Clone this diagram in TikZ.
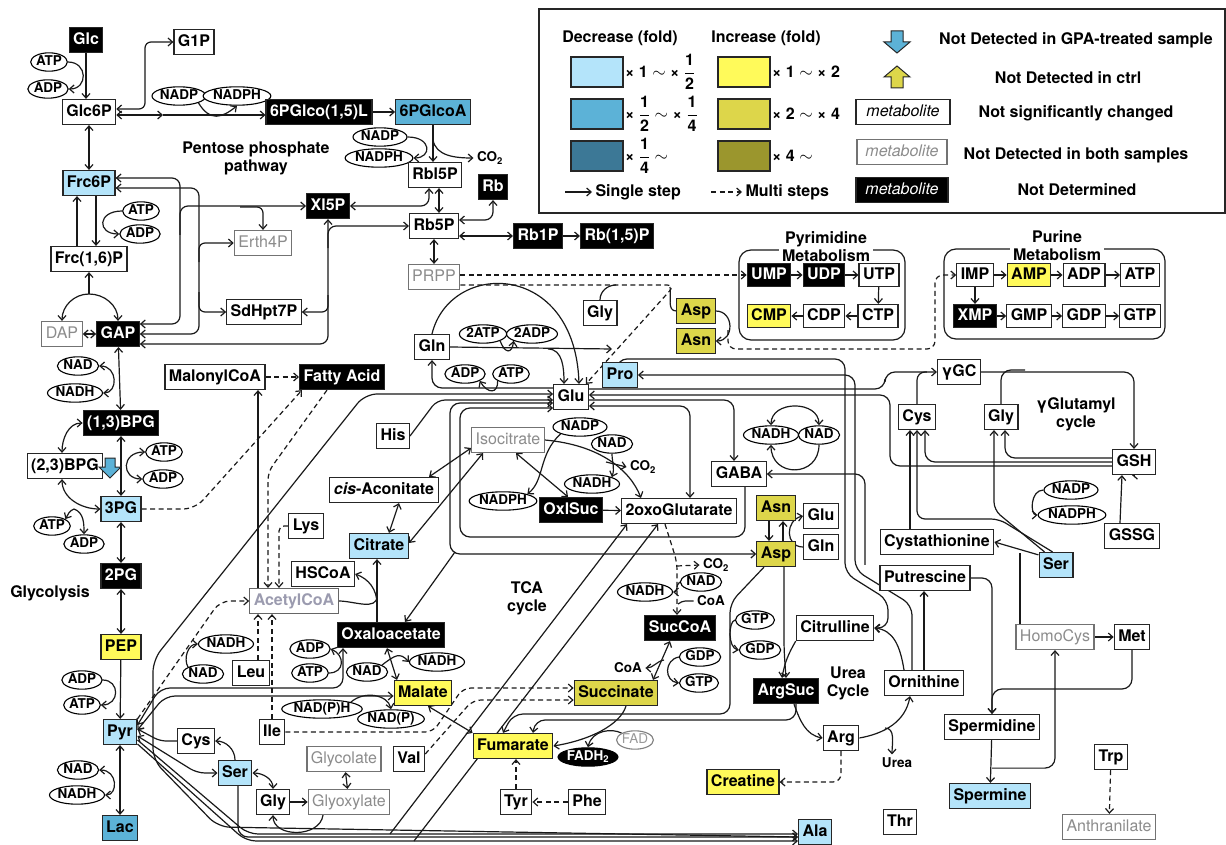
\documentclass[tikz,border=0pt]{standalone}
\usepackage{fontspec}
\setmainfont{TeX Gyre Heros}
\usepackage{amsmath}
\usetikzlibrary{positioning,shapes.geometric,arrows.meta}
\pgfdeclarelayer{bg}
\pgfsetlayers{bg,main}
\definecolor{bluea}{RGB}{180,228,250}
\definecolor{blueb}{RGB}{92,178,215}
\definecolor{bluec}{RGB}{60,120,150}
\definecolor{yela}{RGB}{255,250,90}
\definecolor{yelb}{RGB}{221,214,74}
\definecolor{yelc}{RGB}{155,150,45}
\definecolor{acgray}{RGB}{155,155,175}
\newcommand\mfont{\fontsize{16}{18}\selectfont\bfseries}
\newcommand\cfont{\fontsize{13.5}{15}\selectfont\bfseries}
\tikzset{
  met/.style={draw=black!85, line width=1.2pt, fill=white, font=\mfont, inner xsep=4pt, inner ysep=0pt,
    minimum height=25pt, text height=11.5pt, text depth=3pt},
  nd/.style={met, fill=black, text=white},
  nb/.style={met, draw=black!55, text=black!45, font=\fontsize{16}{18}\selectfont},
  dA/.style={met, fill=bluea}, dB/.style={met, fill=blueb},
  iA/.style={met, fill=yela}, iB/.style={met, fill=yelb},
  sm/.style={minimum height=23pt},
  cof/.style={draw=black, line width=1.1pt, ellipse, fill=white, font=\cfont, inner sep=0pt,
    text height=10pt, text depth=3pt},
  lab/.style={font=\mfont, align=center},
  clab/.style={font=\cfont},
  sw/.style={draw=black!85, line width=1.2pt, minimum width=52pt, minimum height=30pt},
  dsh/.style={dash pattern=on 5pt off 3.5pt},
  downarr/.style={draw=black!85, line width=1pt, fill=blueb},
  uparr/.style={draw=black!85, line width=1pt, fill=yelb},
  links/.style={line width=1.2pt, draw=black!90},
}
\begin{document}
\begin{tikzpicture}[x=1pt,y=-1pt,>={Straight Barb[length=4.5pt,width=8pt]}]
\useasboundingbox (0,0) rectangle (1226,845);

% legend
\draw[line width=1.2pt, black!85] (539,9) rectangle (1225,213);
\node[lab] (dect) at (620,38) {Decrease (fold)};
\node[lab] (inct) at (766,38) {Increase (fold)};
\node[sw, fill=bluea] (swa) at (597,72) {};
\node[sw, fill=blueb] (swb) at (597,114) {};
\node[sw, fill=bluec] (swc) at (597,156) {};
\node[sw, fill=yela] (swd) at (744,72) {};
\node[sw, fill=yelb] (swe) at (744,114) {};
\node[sw, fill=yelc] (swf) at (744,156) {};
\node[lab, anchor=west, inner sep=1pt] (swat) at (624,72) {× 1 $\sim$ × $\dfrac{\text{1}}{\text{2}}$};
\node[lab, anchor=west, inner sep=1pt] (swbt) at (624,114) {× $\dfrac{\text{1}}{\text{2}}$ $\sim$ × $\dfrac{\text{1}}{\text{4}}$};
\node[lab, anchor=west, inner sep=1pt] (swct) at (624,156) {× $\dfrac{\text{1}}{\text{4}}$ $\sim$};
\node[lab, anchor=west, inner sep=1pt] (swdt) at (771,72) {× 1 $\sim$ × 2};
\node[lab, anchor=west, inner sep=1pt] (swet) at (771,114) {× 2 $\sim$ × 4};
\node[lab, anchor=west, inner sep=1pt] (swft) at (771,156) {× 4 $\sim$};
\coordinate (ssa) at (565,192);
\node[lab, anchor=west] (sstep) at (592,192) {Single step};
\coordinate (msa) at (711,192);
\node[lab, anchor=west] (mstep) at (742,192) {Multi steps};
\filldraw[downarr, shift={(897,42)}] (-6,-11) -- (6,-11) -- (6,0) -- (13,0) -- (0,11) -- (-13,0) -- (-6,0) -- cycle;
\filldraw[uparr, shift={(897,77)}] (-6,11) -- (6,11) -- (6,0) -- (13,0) -- (0,-11) -- (-13,0) -- (-6,0) -- cycle;
\node[met, minimum width=94pt, font=\fontsize{16}{18}\selectfont\itshape] (mka) at (903,112) {metabolite};
\node[nb, minimum width=90pt, font=\fontsize{16}{18}\selectfont\itshape] (mkb) at (902,152) {metabolite};
\node[nd, minimum width=92pt, font=\fontsize{16}{18}\selectfont\itshape] (mkc) at (902,190) {metabolite};
\node[lab] (lgta) at (1076,40) {Not Detected in GPA-treated sample};
\node[lab] (lgtb) at (1068,78) {Not Detected in ctrl};
\node[lab] (lgtc) at (1076,113) {Not significantly changed};
\node[lab] (lgtd) at (1076,155) {Not Detected in both samples};
\node[lab] (lgte) at (1077,190) {Not Determined};

% glycolysis and pentose phosphate
\node[nd] (glc) at (86,40) {Glc};
\node[cof] (atpA) at (49,62) {ATP};
\node[cof] (adpA) at (48,89) {ADP};
\node[met] (glcsixp) at (89,112) {Glc6P};
\node[met] (gonep) at (194,42) {G1P};
\node[cof] (nadpA) at (179,96) {NADP};
\node[cof] (nadphA) at (237,96) {NADPH};
\node[nd] (pglcol) at (319,112) {6PGlco(1,5)L};
\node[dB] (pglcoa) at (433,112) {6PGlcoA};
\node[lab] (ppp) at (256,158) {Pentose phosphate\\pathway};
\node[cof] (nadpB) at (380,137) {NADP};
\node[cof] (nadphB) at (379,158) {NADPH};
\node[clab] (cotwoA) at (490,158) {CO\textsubscript{2}};
\node[met] (rblfivep) at (435,175) {Rbl5P};
\node[nd] (rb) at (493,187) {Rb};
\node[dA] (frcsixp) at (89,183) {Frc6P};
\node[cof] (atpB) at (141,211) {ATP};
\node[cof] (adpB) at (140,234) {ADP};
\node[nd] (xlfivep) at (328,206) {Xl5P};
\node[met] (rbfivep) at (434,226) {Rb5P};
\node[nd] (rbonep) at (538,236) {Rb1P};
\node[nd] (rbofp) at (617,236) {Rb(1,5)P};
\node[nb] (erth) at (263,243) {Erth4P};
\node[met] (frcbp) at (89,259) {Frc(1,6)P};
\node[met] (sdh) at (264,312) {SdHpt7P};
\node[nb] (prpp) at (434,277) {PRPP};
\node[nb] (dap) at (62,334) {DAP};
\node[nd] (gap) at (118,334) {GAP};
\node[cof] (nadA) at (78,366) {NAD};
\node[cof] (nadhA) at (75,393) {NADH};
\node[met] (malcoa) at (215,377) {MalonylCoA};
\node[nd] (fatty) at (342,377) {Fatty Acid};
\node[nd] (bpgA) at (121,423) {(1,3)BPG};
\node[met] (bpgB) at (65,466) {(2,3)BPG};
\filldraw[downarr, shift={(110,468)}] (-5,-10) -- (5,-10) -- (5,-1) -- (11,-1) -- (0,10) -- (-11,-1) -- (-5,-1) -- cycle;
\node[cof] (atpC) at (164,452) {ATP};
\node[cof] (adpC) at (163,479) {ADP};
\node[dA] (tpg) at (121,509) {3PG};
\node[cof] (atpD) at (52,526) {ATP};
\node[cof] (adpD) at (84,544) {ADP};
\node[nd] (twopg) at (121,576) {2PG};
\node[lab] (glyco) at (50,593) {Glycolysis};
\node[iA] (pep) at (121,647) {PEP};
\node[cof] (adpE) at (82,680) {ADP};
\node[cof] (atpE) at (82,705) {ATP};
\node[dA] (pyr) at (120,732) {Pyr};
\node[cof] (nadB) at (78,770) {NAD};
\node[cof] (nadhB) at (77,795) {NADH};
\node[dB] (lac) at (120,828) {Lac};

% acetylCoA and TCA cycle
\node[cof] (nadhC) at (226,644) {NADH};
\node[cof] (nadC) at (203,674) {NAD};
\node[met] (leu) at (251,673) {Leu};
\node[met, text=acgray, draw=black!60] (acoa) at (294,601) {AcetylCoA};
\node[met] (lys) at (306,526) {Lys};
\node[met] (hscoa) at (323,574) {HSCoA};
\node[dA] (citrate) at (379,546) {Citrate};
\node[met] (cisacon) at (384,490) {\textit{cis}-Aconitate};
\node[met] (his) at (393,436) {His};
\node[met] (gln) at (432,347) {Gln};
\node[cof] (twoatp) at (483,334) {2ATP};
\node[cof] (twoadp) at (532,334) {2ADP};
\node[cof] (adpF) at (465,374) {ADP};
\node[cof] (atpF) at (511,374) {ATP};
\node[met] (glu) at (571,397) {Glu};
\node[dA] (pro) at (620,375) {Pro};
\node[met] (glyA) at (600,313) {Gly};
\node[iB] (aspA) at (696,311) {Asp};
\node[iB] (asnA) at (696,341) {Asn};
\node[nb] (isocit) at (508,440) {Isocitrate};
\node[cof] (nadpC) at (580,427) {NADP};
\node[cof] (nadC2) at (612,444) {NAD};
\node[cof] (nadhD) at (592,484) {NADH};
\node[cof] (nadphC) at (503,501) {NADPH};
\node[clab] (cotwoB) at (643,467) {CO\textsubscript{2}};
\node[nd] (oxlsuc) at (571,510) {OxlSuc};
\node[met] (oxoglu) at (679,511) {2oxoGlutarate};
\node[nd] (oxa) at (391,635) {Oxaloacetate};
\node[cof] (adpG) at (310,649) {ADP};
\node[cof] (atpG) at (310,673) {ATP};
\node[cof] (nadD) at (367,672) {NAD};
\node[cof] (nadhE) at (437,662) {NADH};
\node[iA] (malate) at (423,693) {Malate};
\node[cof] (nadph2) at (322,709) {NAD(P)H};
\node[cof] (nadp2) at (391,719) {NAD(P)};
\node[met] (ile) at (272,732) {Ile};
\node[met] (cysA) at (196,741) {Cys};
\node[dA] (serA) at (235,773) {Ser};
\node[met] (glyB) at (273,802) {Gly};
\node[nb] (glycolate) at (344,759) {Glycolate};
\node[nb] (glyox) at (349,802) {Glyoxylate};
\node[met] (val) at (409,759) {Val};
\node[lab] (tca) at (527,598) {TCA\\cycle};
\node[iA] (fum) at (513,746) {Fumarate};
\node[cof, fill=black, text=white] (fadh) at (588,757) {FADH\textsubscript{2}};
\node[cof, draw=black!50, text=black!40, font=\fontsize{13.5}{15}\selectfont] (fad) at (635,740) {FAD};
\node[met] (tyr) at (516,802) {Tyr};
\node[met] (phe) at (587,802) {Phe};
\node[iB] (succ) at (616,693) {Succinate};
\node[clab] (coaA) at (628,668) {CoA};
\node[cof] (gdpA) at (700,657) {GDP};
\node[cof] (gtpA) at (699,683) {GTP};
\node[nd] (succoa) at (680,628) {SucCoA};
\node[cof] (nadhF) at (645,592) {NADH};
\node[cof] (nadE) at (701,582) {NAD};
\node[clab] (coaB) at (711,601) {CoA};
\node[clab] (cotwoC) at (716,565) {CO\textsubscript{2}};

% urea cycle, GABA and others
\node[cof] (gtpB) at (755,620) {GTP};
\node[cof] (gdpB) at (760,650) {GDP};
\node[iB] (asnB) at (776,508) {Asn};
\node[iB] (aspB) at (776,554) {Asp};
\node[met] (gluB) at (821,516) {Glu};
\node[met] (glnB) at (821,547) {Gln};
\node[met] (gaba) at (739,474) {GABA};
\node[cof] (nadhG) at (771,435) {NADH};
\node[cof] (nadF) at (819,435) {NAD};
\node[met] (citrulline) at (835,628) {Citrulline};
\node[nd] (argsuc) at (786,691) {ArgSuc};
\node[lab] (ureacyc) at (848,683) {Urea\\Cycle};
\node[met] (arg) at (841,738) {Arg};
\node[clab] (urea) at (897,763) {Urea};
\node[iA] (creatine) at (743,782) {Creatine};
\node[dA] (ala) at (815,832) {Ala};
\node[met] (thr) at (900,822) {Thr};
\node[met] (ornithine) at (924,683) {Ornithine};
\node[met] (putrescine) at (925,578) {Putrescine};
\node[met] (cysta) at (937,542) {Cystathionine};
\node[dA] (serB) at (1056,565) {Ser};
\node[met] (cysB) at (917,417) {Cys};
\node[met] (glyC) at (1001,417) {Gly};
\node[met] (ygc) at (959,372) {γGC};
\node[lab] (yglu) at (1076,414) {γGlutamyl\\cycle};
\node[met] (gsh) at (1134,462) {GSH};
\node[cof] (nadpD) at (1071,490) {NADP};
\node[cof] (nadphD) at (1072,515) {NADPH};
\node[met] (gssg) at (1132,536) {GSSG};
\node[nb] (homocys) at (1055,637) {HomoCys};
\node[met] (met) at (1132,637) {Met};
\node[met] (spermidine) at (992,727) {Spermidine};
\node[dA] (spermine) at (990,796) {Spermine};
\node[met] (trp) at (1111,757) {Trp};
\node[nb] (anthra) at (1109,827) {Anthranilate};

% nucleotide metabolism
\node[lab, fill=white, inner ysep=0pt] (pyrimt) at (826,247) {Pyrimidine\\Metabolism};
\node[lab, fill=white, inner ysep=0pt] (purint) at (1057,246) {Purine\\Metabolism};
\node[nd, sm] (ump) at (769,275) {UMP};
\node[nd, sm] (udp) at (824,275) {UDP};
\node[met, sm] (utp) at (879,275) {UTP};
\node[iA, sm] (cmp) at (769,316) {CMP};
\node[met, sm] (cdp) at (824,316) {CDP};
\node[met, sm] (ctp) at (878,316) {CTP};
\node[met, sm] (imp) at (975,275) {IMP};
\node[iA, sm] (amp) at (1029,275) {AMP};
\node[met, sm] (adpN) at (1084,275) {ADP};
\node[met, sm] (atpN) at (1140,275) {ATP};
\node[nd, sm] (xmp) at (975,316) {XMP};
\node[met, sm] (gmp) at (1029,316) {GMP};
\node[met, sm] (gdpN) at (1084,316) {GDP};
\node[met, sm] (gtpN) at (1140,316) {GTP};

\begin{pgfonlayer}{bg}
\begin{scope}[links]
\draw[rounded corners=12] (739,250) rectangle (905,340);
\draw[rounded corners=12] (944,249) rectangle (1165,339);
\draw[->] (ssa) -- (sstep.west);
\draw[->, dsh] (msa) -- (mstep.west);
\draw[->] (ump) -- (udp);
\draw[->] (udp) -- (utp);
\draw[->] (utp) -- (ctp);
\draw[->] (ctp) -- (cdp);
\draw[->] (cdp) -- (cmp);
\draw[->] (imp) -- (amp);
\draw[->] (amp) -- (adpN);
\draw[->] (adpN) -- (atpN);
\draw[->] (imp) -- (xmp);
\draw[->] (xmp) -- (gmp);
\draw[->] (gmp) -- (gdpN);
\draw[->] (gdpN) -- (gtpN);

% glycolysis
\draw[->] (glc) -- (glc|-glcsixp.north);
\draw[->] (atpA.east) .. controls (88,62) and (88,89) .. (adpA.east);
\coordinate (gsplit) at (163,115);
\draw[<->] ([yshift=-3]glcsixp.east) -- (gsplit);
\draw[->] (gsplit) -- (gsplit-|pglcol.west);
\draw[<->, rounded corners=6] ([yshift=3]glcsixp.east) -| (145,70) |- (gonep.west);
\draw[->] (nadpA.south east) .. controls (210,122) and (222,118) .. (nadphA.south);
\draw[->] (pglcol) -- (pglcoa);
\draw[->] (pglcoa.south) -- (pglcoa.south|-rblfivep.north);
\draw[->] (nadpB.east) .. controls (432,137) and (432,158) .. (nadphB.east);
\coordinate (cobr) at (433,140);
\draw[->] (cobr) .. controls (436,156) and (455,158) .. (cotwoA.west);
\draw[<->] ([xshift=5]rbfivep.north|-rblfivep.south) -- ([xshift=5]rbfivep.north);
\draw[<->, rounded corners=8] (xlfivep.east) -| ([xshift=-6]rblfivep.south);
\draw[<->, rounded corners=8] ([yshift=6]rbfivep.east) -| (rb.south);
\draw[<->] (rbfivep.east|-rbonep.west) -- (rbonep.west);
\draw[->] (rbonep) -- (rbofp);
\draw[<->] (rbfivep) -- (prpp);
\draw[<->] (glcsixp) -- (frcsixp);
\draw[->] ([xshift=7]frcsixp.south) -- ([xshift=7]frcsixp.south|-frcbp.north);
\draw[->] ([xshift=-12]frcsixp.south|-frcbp.north) -- ([xshift=-12]frcsixp.south);
\draw[->] (atpB.west) .. controls (97,211) and (97,234) .. (adpB.west);
\coordinate (fsplit) at (89,294);
\draw[->] (fsplit) -- (frcbp.south);
\draw[->] (fsplit) to[out=180,in=90] (dap.north);
\draw[->] (fsplit) to[out=0,in=90] (gap.north);
\draw[<->] (dap) -- (gap);
\draw[<->, rounded corners=8] ([yshift=5]frcsixp.east) -| (180,300) |- ([yshift=10]gap.east);
\draw[<->, rounded corners=8] ([yshift=-5]frcsixp.east) -| (199,300) |- (gap.east);
\coordinate (tkx) at (180,235);
\draw[->, rounded corners=8] (tkx) |- (xlfivep.west);
\coordinate (ebr) at (240,207);
\draw[->, rounded corners=6] (ebr) -| (erth.north);
\coordinate (ebr2) at (199,262);
\draw[->, rounded corners=6] (ebr2) |- (erth.west);
\coordinate (sbr) at (199,292);
\draw[->, rounded corners=6] (sbr) |- (sdh.west);
\draw[<->, rounded corners=8] (xlfivep.south) |- ([yshift=-10]gap.east);
\coordinate (xbr) at (328,248);
\draw[->, rounded corners=8] (xbr) |- (rbfivep.west);
\coordinate (xbr2) at (328,295);
\draw[->, rounded corners=6] (xbr2) |- (sdh.east);
\draw[<->] (gap) -- (bpgA);
\draw[<->] (nadA.east) .. controls (118,366) and (118,393) .. (nadhA.east);
\draw[<->] (bpgA) -- (tpg);
\draw[<->] (atpC.west) .. controls (121,452) and (121,479) .. (adpC.west);
\draw[<->] (bpgA.west) to[out=180,in=90] ([xshift=-3]bpgB.north);
\draw[<->] ([xshift=-3]bpgB.south) to[out=-90,in=180] (tpg.west);
\coordinate (pgbr) at (74,509);
\draw[->] (pgbr) to[out=200,in=60] (atpD.north east);
\draw[->] (pgbr) to[out=-20,in=90] (adpD.north);
\draw[->, dsh, rounded corners=12] (tpg.east) -- (195,509) -- ([xshift=3]fatty.south west);
\draw[<->] (tpg) -- (twopg);
\draw[<->] (twopg) -- (pep);
\draw[->] (pep) -- (pyr);
\draw[->] (adpE.east) .. controls (120,680) and (120,705) .. (atpE.east);
\draw[<->] (pyr) -- (lac);
\draw[<->] (nadB.east) .. controls (118,770) and (118,795) .. (nadhB.east);

% fatty acid, acetylCoA
\draw[->, dsh] (malcoa) -- (fatty);
\draw[->] ([xshift=-36]acoa.north) -- ([xshift=-36]acoa.north|-malcoa.south);
\draw[->, dsh, rounded corners=8] ([xshift=-15]fatty.south) -- (268,472) -- ([xshift=-26]acoa.north);
\draw[->, dsh, rounded corners=5] (lys.west) -| ([xshift=-15]acoa.north);
\draw[->, dsh, rounded corners=10] (pyr.north east) -- (220,601) -- (acoa.west);
\draw[->] (nadC.north west) to[out=120,in=180] (nadhC.west);
\draw[->, dsh] ([xshift=7]leu.north) -- ([xshift=7]leu.north|-acoa.south);
\draw[->, dsh] (ile.north) -- (ile.north|-acoa.south);
\draw[->, dsh, rounded corners=8] (ile.east) -- (433,732) -- (463,688) -- ([yshift=5]succ.west);
\draw[->, dsh, rounded corners=8] ([yshift=5]val.east) -- (473,700) -- ([yshift=-7]succ.west);

% TCA cycle
\draw[->] ([xshift=-14]oxa.north) -- ([xshift=-14]oxa.north|-citrate.south);
\coordinate (csj) at (377,596);
\draw (acoa.east) to[out=0,in=-90] (csj);
\draw[->] ([yshift=-8]csj) to[out=90,in=-20] (hscoa.east);
\draw[<->] ([xshift=10]citrate.north) -- ([xshift=15]cisacon.south);
\draw[<->] ([xshift=45]cisacon.north) -- ([yshift=-8]isocit.west);
\draw[<->] ([yshift=3]citrate.east) -- ([xshift=-25]isocit.south);
\draw[<->] ([xshift=8]isocit.south) -- ([xshift=-3]oxlsuc.north);
\draw[->] (nadpC.south west) .. controls (538,455) and (545,480) .. (nadphC.north east);
\draw[->] (isocit.east) .. controls (600,445) and (630,470) .. ([xshift=-38]oxoglu.north);
\draw[->] (nadC2.south) .. controls (612,462) and (615,468) .. (nadhD.north east);
\coordinate (cob) at (606,462);
\draw[->] (cob) -- (cotwoB.west);
\draw[->] (oxlsuc) -- (oxoglu);
\draw[->, dsh, rounded corners=8] ([xshift=-14]oxoglu.south) -- (677,562) -- ([xshift=-3]succoa.north);
\coordinate (cocb) at (677,566);
\draw[->, dsh] (cocb) -- (cotwoC.west);
\draw[->] (nadE.west) to[out=-150,in=0] (nadhF.east);
\coordinate (coab) at (678,604);
\draw (coaB.west) to[out=180,in=40] (coab);
\draw[<->] ([xshift=-10]succoa.south) -- ([xshift=37]succ.north);
\coordinate (coasb) at (664,660);
\draw[->] (coasb) to[out=190,in=0] (coaA.east);
\draw[->] (gdpA.west) .. controls (664,660) and (664,681) .. (gtpA.west);
\draw[<->] ([xshift=5]malate.south) -- (fum.north west);
\draw[<->] ([xshift=-4]oxa.south) -- ([xshift=-26]malate.north);
\draw[->] (nadD.north east) .. controls (395,655) and (400,652) .. (nadhE.west);
\draw[<->, rounded corners=10] ([yshift=7]pyr.east) -- (160,688) -| ([xshift=-48]oxa.south);
\draw[->] (atpG.east) .. controls (345,673) and (345,655) .. (adpG.east);
\draw[<->, rounded corners=10] ([yshift=2]pyr.east) -- (165,696) -- ([yshift=-3]malate.west);
\draw[->] (nadph2.north east) .. controls (365,690) and (388,695) .. (nadp2.north);
\draw[->] ([xshift=10]succ.south) .. controls (620,725) and (590,740) .. (fum.east);
\draw[->] (fad.north west) .. controls (612,728) and (592,730) .. (fadh.north);
\draw[->, dsh] (tyr.north) -- (tyr.north|-fum.south);
\draw[->, dsh] (phe) -- (tyr);
\draw[->, rounded corners=10] ([xshift=-12]aspB.south) -- (730,603) -- (730,714) -- (513,714) -- ([xshift=-10]fum.north);
\draw[->] (gtpB.west) .. controls (728,622) and (728,648) .. (gdpB.west);
\draw[->, rounded corners=10] ([xshift=10]argsuc.south) |- (535,720) -- ([xshift=20]fum.north);

% amino acids to pyruvate, alanine
\draw[->, rounded corners=6] (cysA.west) -- (160,741) -- ([yshift=3]pyr.east);
\draw[<->, rounded corners=8] (serA.west) -- (197,773) -- ([yshift=-4]pyr.east);
\draw[->] (serA.north) to[out=90,in=0] (cysA.east);
\draw[<->] (serA.east) to[out=0,in=90] (glyB.north);
\draw[->] (glyB) -- (glyox);
\draw[<->] (glycolate) -- (glyox);
\draw[->] ([xshift=-26]glyox.south) .. controls (320,838) and (273,838) .. (glyB.south);
\draw[<->, rounded corners=12] ([yshift=3]glu.west) -- (365,394) -- (153,660) -- (153,760) -- (218,827) -- ([yshift=-5]ala.west);
\draw[->, rounded corners=10] ([xshift=3]serA.south) |- ([yshift=-5]ala.west);
\draw[->, rounded corners=10] ([yshift=-8]pyr.east) -- (248,834) -- ([yshift=-2]ala.west);
\draw[->, rounded corners=10] ([yshift=-12]pyr.east) -- (246,841) -- ([yshift=-9]ala.west);
\draw[<-, rounded corners=10] ([xshift=-52]oxoglu.south) -- (390,834);
\draw[<-, rounded corners=10] ([xshift=-21]oxoglu.south) -- (414,841);

% glutamate hub
\draw[->, rounded corners=10] ([yshift=9]glu.west) -| (gln.south);
\draw[->] (atpF.south west) .. controls (498,394) and (488,394) .. (adpF.south east);
\draw[->] (gln.north) .. controls (450,260) and (575,260) .. ([xshift=8]glu.north);
\coordinate (glnj) at (612,349);
\draw[->] (gln.east) -- (glnj);
\draw[->] (twoatp.south east) .. controls (505,354) and (512,354) .. (twoadp.south west);
\coordinate (glnk) at (548,349);
\draw[->] (glnk) to[out=0,in=90] ([xshift=-7]glu.north);
\draw[->, rounded corners=8] (his.east) -- (437,400) -- ([yshift=-3]glu.west);
\draw[<->, rounded corners=10] ([yshift=-6]glu.west) -| (450,500) |- (aspB.west);
\coordinate (oaj) at (455,552);
\draw[->] (oaj) -- ([xshift=14]oxa.north);
\draw[->, rounded corners=10] ([xshift=6]gaba.south) |- (460,537) |- ([yshift=-11]glu.west);
\draw[->, dsh] (prpp.east|-ump.west) -- (ump.west);
\draw[->, dsh, rounded corners=8] ([yshift=-8]prpp.east) -- (675,285) -- ([xshift=-3]glu.north east);
\coordinate (purb) at (728,330);
\draw[->, dsh, rounded corners=8] (purb) |- (935,349) |- (imp.west);
\draw[->] (aspA.east) to[out=0,in=0,looseness=1.6] (asnA.east);
\draw (glyA.north) to[out=90,in=180] (616,285);
\draw (aspA.west) to[out=180,in=-80] (670,287);

% glutamate to the right
\draw[->, rounded corners=10] ([yshift=8]glu.east) -- (885,389) |- (ygc.west);
\draw[rounded corners=8] (cysB.north) |- ([xshift=-10]ygc.west);
\draw[->, rounded corners=10] (ygc.east) -| (gsh.north);
\draw[rounded corners=10] (glyC.north) |- (1025,370);
\draw[->, rounded corners=10] ([yshift=4]gsh.west) -| ([xshift=4]glyC.south);
\draw[->, rounded corners=10] (gsh.west) -| ([xshift=8]cysB.south);
\draw[->, rounded corners=10] ([yshift=-4]gsh.west) -- (890,466) |- ([yshift=2]glu.east);
\draw[->, rounded corners=10] ([yshift=-3]glu.east) -| ([xshift=-5]gaba.north);
\draw[<->, rounded corners=10] ([yshift=-9]glu.east) -| ([xshift=11]oxoglu.north);
\draw[<->, rounded corners=10] ([xshift=-3]pro.north) |- (845,359) -- (845,573) -- (888,600) |- (citrulline.east);
\draw[->, rounded corners=10] ([xshift=-12]ornithine.north) -- (912,605) -- (855,570) |- (pro.east);
\draw[<->] (nadhG.north) .. controls (771,400) and (819,400) .. (nadF.north);
\draw[->] (nadF.south) .. controls (819,478) and (771,478) .. (nadhG.south);
\draw[->, rounded corners=10] ([xshift=-60]putrescine.north) |- (gaba.east);
\draw[->] (gsh.south) -- (gsh.south-|gssg.north);
\draw[->] ([xshift=-12]gssg.north) -- ([xshift=-12]gsh.south);
\draw[->] (nadpD.west) .. controls (1030,490) and (1030,515) .. (nadphD.west);

% urea cycle, polyamines, sulfur
\draw[->] ([xshift=-7]asnB.south) -- ([xshift=-7]aspB.north);
\draw[->] ([xshift=7]aspB.north) -- ([xshift=7]asnB.south);
\draw[->] (glnB.west) .. controls (785,547) and (785,520) .. (gluB.west);
\draw[->, rounded corners=10] ([xshift=8]aspB.south) -- (784,650) -- (argsuc.north);
\draw[->] (citrulline.south west) to[out=-120,in=80] ([xshift=-4]argsuc.north);
\draw[->] ([xshift=8]argsuc.south) to[out=-70,in=170] (arg.west);
\draw[->] (arg.east) to[out=10,in=-100] ([xshift=-14]ornithine.south);
\coordinate (ureaj) at (885,728);
\draw[->] (ureaj) to[out=0,in=90] ([xshift=-5]urea.north);
\draw[->] ([xshift=-20]ornithine.north) .. controls (900,645) and (893,630) .. (citrulline.east);
\draw[->] (ornithine.north) -- (ornithine.north|-putrescine.south);
\draw[->, dsh, rounded corners=8] (arg.south) |- (creatine.east);
\draw[->, rounded corners=10] (putrescine.east) -| (spermidine.north);
\draw[->, rounded corners=10] (met.south) |- (992,689) -- (spermidine.north);
\draw[->] (spermidine) -- (spermine);
\draw[->, rounded corners=10] ([yshift=-28]spermidine.south) -| (homocys.south);
\draw[->] (homocys) -- (met);
\draw ([xshift=-35]homocys.north) -- (1020,553);
\draw[->] ([xshift=-27]cysta.north) -- ([xshift=-27]cysta.north|-cysB.south);
\draw[->, rounded corners=8] ([xshift=6]serB.north west) -- (994,510) -- ([xshift=-7]glyC.south);
\draw[->, rounded corners=8] ([xshift=14]serB.north west) -- (999,519) -| (cysB.south);
\draw[->] ([yshift=-3]serB.north west) -- (cysta.east);
\draw[->, dsh] (trp) -- (anthra);
\end{scope}
\end{pgfonlayer}
\end{tikzpicture}
\end{document}
